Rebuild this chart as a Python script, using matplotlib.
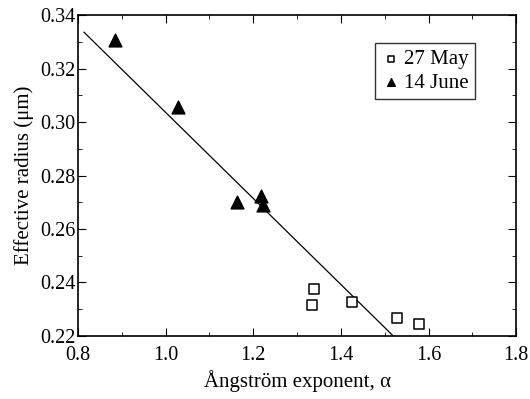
import matplotlib.pyplot as plt
from matplotlib.ticker import MultipleLocator

plt.rcParams['font.family'] = ['Liberation Serif', 'DejaVu Serif']
plt.rcParams['mathtext.fontset'] = 'stix'

# dados
may_alpha = [1.339, 1.334, 1.426, 1.528, 1.578]
may_radius = [0.2376, 0.2316, 0.2327, 0.2267, 0.2245]
june_alpha = [0.884, 1.028, 1.163, 1.218, 1.222]
june_radius = [0.3307, 0.3056, 0.2700, 0.2725, 0.2690]
fit_alpha = [0.814, 1.517]
fit_radius = [0.3336, 0.2204]

fig = plt.figure(figsize=(5.3, 3.99), dpi=100)
ax = fig.add_axes([0.147, 0.158, 0.827, 0.804])

ax.plot(fit_alpha, fit_radius, color='black', linewidth=0.9)
ax.scatter(may_alpha, may_radius, marker='s', s=55, facecolors='white',
           edgecolors='black', linewidths=1.1, label='27 May', zorder=3)
ax.scatter(june_alpha, june_radius, marker='^', s=85, color='black',
           label='14 June', zorder=3)

ax.set_xlim(0.8, 1.8)
ax.set_ylim(0.22, 0.34)
ax.xaxis.set_major_locator(MultipleLocator(0.2))
ax.xaxis.set_minor_locator(MultipleLocator(0.1))
ax.yaxis.set_major_locator(MultipleLocator(0.02))
ax.yaxis.set_minor_locator(MultipleLocator(0.01))
ax.xaxis.set_major_formatter(plt.FormatStrFormatter('%.1f'))
ax.yaxis.set_major_formatter(plt.FormatStrFormatter('%.2f'))
ax.tick_params(which='both', direction='in', top=True, right=True, labelsize=14.5)
ax.tick_params(which='major', length=6)
ax.tick_params(which='minor', length=3)
ax.tick_params(axis='x', pad=7)
ax.tick_params(axis='y', pad=2)
for s in ax.spines.values():
    s.set_linewidth(1.2)

ax.set_xlabel('Ångström exponent, α', fontsize=15, labelpad=4)
ax.set_ylabel('Effective radius (μm)', fontsize=15, labelpad=4)

leg = ax.legend(loc='upper right', bbox_to_anchor=(0.93, 0.945), fontsize=15,
                fancybox=False, edgecolor='black', handletextpad=0.2,
                handlelength=0.9, borderpad=0.3, labelspacing=0.2,
                markerscale=0.6)
leg.get_frame().set_linewidth(1.0)

fig.savefig('out.png', dpi=100)
